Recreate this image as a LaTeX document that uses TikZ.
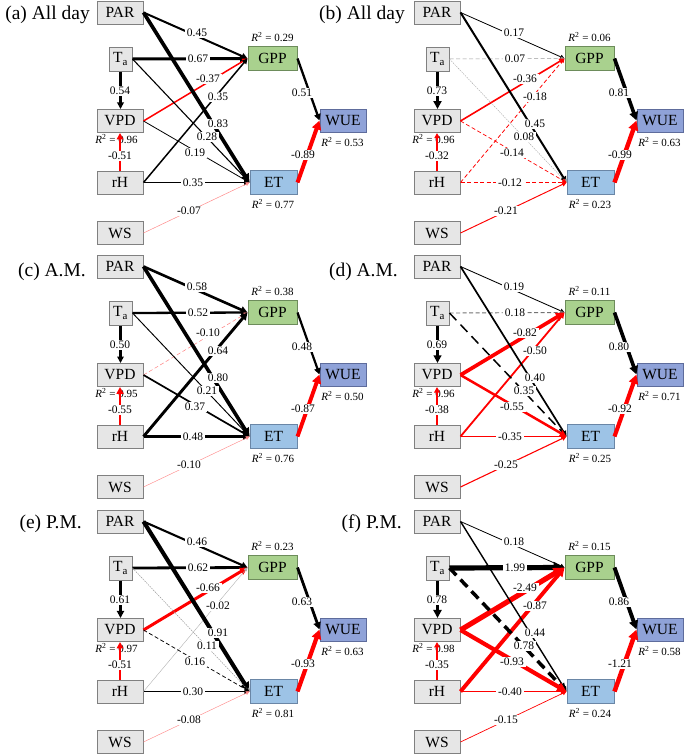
\documentclass[tikz,border=0pt]{standalone}
\usepackage{fontspec}
\setmainfont{Liberation Serif}
\usetikzlibrary{arrows.meta}
\definecolor{boxfill}{HTML}{E6E6E6}
\definecolor{boxline}{HTML}{808080}
\definecolor{gppfill}{HTML}{A9D18E}
\definecolor{gppline}{HTML}{6D8C5B}
\definecolor{etfill}{HTML}{9DC3E6}
\definecolor{etline}{HTML}{6A86A6}
\definecolor{wuefill}{HTML}{8FA2D8}
\definecolor{wueline}{HTML}{5E6C9C}
\tikzset{
  bx/.style={draw=boxline, line width=1pt, fill=boxfill, minimum width=46pt, minimum height=23pt, inner sep=0pt, font=\fontsize{15.5}{18}\selectfont},
  tabx/.style={bx, minimum width=23pt, minimum height=24pt},
  gppbx/.style={bx, fill=gppfill, draw=gppline, minimum width=49pt, minimum height=24pt},
  etbx/.style={bx, fill=etfill, draw=etline, minimum width=47pt, minimum height=24pt},
  wuebx/.style={bx, fill=wuefill, draw=wueline, minimum width=46pt, minimum height=23pt},
  lbl/.style={fill=white, inner xsep=2pt, inner ysep=1.2pt, font=\fontsize{11.5}{13}\selectfont},
  rsq/.style={inner sep=0pt, font=\fontsize{11}{13}\selectfont},
  ttl/.style={anchor=base east, inner sep=0pt, font=\fontsize{19.5}{22}\selectfont},
  P/.style={line width=#1pt, draw=black, -{Triangle[length=3pt 1.5, width=3pt 1.5]}},
  N/.style={P=#1, draw=red},
  dsh/.style={dash pattern=on 4pt off 2.5pt},
  ldsh/.style={dash pattern=on 10pt off 6pt},
  dotl/.style={dash pattern=on 1.5pt off 1pt},
}
\newcommand\mkpanel[8]{%
  \node[bx] (#1PAR) at (120,12.5) {PAR};
  \node[tabx] (#1Ta) at (120.5,59) {T\textsubscript{a}};
  \node[bx] (#1VPD) at (120,121) {VPD};
  \node[bx] (#1rH) at (120,182.5) {rH};
  \node[bx] (#1WS) at (120,233) {WS};
  \node[gppbx] (#1GPP) at (272.5,58.5) {GPP};
  \node[etbx] (#1ET) at (273.5,182.5) {ET};
  \node[wuebx] (#1WUE) at (343,120.5) {WUE};
  \node[ttl] (#1T) at (#3,#4) {#2};
  \node[rsq] (#1rG) at (272.5,37.5) {\textit{R}\textsuperscript{2} = #5};
  \node[rsq] (#1rE) at (273,204) {\textit{R}\textsuperscript{2} = #6};
  \node[rsq] (#1rW) at (342.5,142.5) {\textit{R}\textsuperscript{2} = #7};
  \node[rsq] (#1rV) at (116.5,139.5) {\textit{R}\textsuperscript{2} = #8};
}
\newcommand\edgesA[9]{%
  \draw[#2] (#1PAR.east) -- (#1GPP.west);
  \draw[#3] (#1Ta.east) -- (#1GPP.west);
  \draw[#4] (#1VPD.east) -- (#1GPP.west);
  \draw[#5] (#1rH.east) -- (#1GPP.west);
  \draw[#6] (#1PAR.east) -- (#1ET.west);
  \draw[#7] (#1Ta.east) -- (#1ET.west);
  \draw[#8] (#1VPD.east) -- (#1ET.west);
  \draw[#9] (#1rH.east) -- (#1ET.west);
}
\newcommand\edgesB[6]{%
  \draw[#2] (#1WS.east) -- (#1ET.west);
  \draw[#3] (#1Ta.south) -- (#1Ta.south |- #1VPD.north);
  \draw[#4] (#1rH.north) -- (#1rH.north |- #1VPD.south);
  \draw[#5] (#1GPP.east) -- (#1WUE.west);
  \draw[#6] (#1ET.east) -- (#1WUE.west);
}
\newcommand\labelsA[9]{%
  \node[lbl] (#1l1) at (197,33) {#2};
  \node[lbl] (#1l2) at (198,59) {#3};
  \node[lbl] (#1l3) at (208,79) {#4};
  \node[lbl] (#1l4) at (218,97) {#5};
  \node[lbl] (#1l5) at (218,124) {#6};
  \node[lbl] (#1l6) at (207,137) {#7};
  \node[lbl] (#1l7) at (195,153) {#8};
  \node[lbl] (#1l8) at (193,183) {#9};
}
\newcommand\labelsB[6]{%
  \node[lbl] (#1l9) at (189,211) {#2};
  \node[lbl] (#1l10) at (120,91) {#3};
  \node[lbl] (#1l11) at (120,156) {#4};
  \node[lbl] (#1l12) at (302,93) {#5};
  \node[lbl] (#1l13) at (303,155) {#6};
}
\begin{document}
\begin{tikzpicture}[x=1pt,y=-1pt]
\path[fill=white,use as bounding box] (0,0) rectangle (685,755);
% (a)
\begin{scope}
\mkpanel{a}{(a) All day}{90}{19.5}{0.29}{0.77}{0.53}{0.96}
\edgesA{a}{P=2.0}{P=3.0}{N=1.5}{P=1.5}{P=3.7}{P=1.1}{P=0.8}{P=1.6}
\edgesB{a}{N=0.5,draw=red!45}{P=2.4}{N=2.3}{P=2.3}{N=4.0}
\labelsA{a}{0.45}{0.67}{-0.37}{0.35}{0.83}{0.28}{0.19}{0.35}
\labelsB{a}{-0.07}{0.54}{-0.51}{0.51}{-0.89}
\end{scope}
% (b)
\begin{scope}[shift={(317,0)}]
\mkpanel{b}{(b) All day}{88}{19.5}{0.06}{0.23}{0.63}{0.96}
\edgesA{b}{P=0.8}{P=0.5,draw=black!40,dsh}{N=1.6}{N=0.8,dsh}{P=2.0}{P=0.4,draw=black!35,dotl}{N=0.7,dsh}{N=0.6,dsh}
\edgesB{b}{N=0.95}{P=3.3}{N=1.4}{P=3.6}{N=4.4}
\labelsA{b}{0.17}{0.07}{-0.36}{-0.18}{0.45}{0.08}{-0.14}{-0.12}
\labelsB{b}{-0.21}{0.73}{-0.32}{0.81}{-0.99}
\end{scope}
% (c)
\begin{scope}[shift={(0,254)}]
\mkpanel{c}{(c) A.M.}{86}{22}{0.38}{0.76}{0.50}{0.95}
\edgesA{c}{P=2.6}{P=2.3}{N=0.5,draw=red!50,dsh}{P=2.9}{P=3.6}{P=0.95}{P=1.7}{P=2.2}
\edgesB{c}{N=0.45,draw=red!45}{P=2.25}{N=2.5}{P=2.2}{N=3.9}
\labelsA{c}{0.58}{0.52}{-0.10}{0.64}{0.80}{0.21}{0.37}{0.48}
\labelsB{c}{-0.10}{0.50}{-0.55}{0.48}{-0.87}
\end{scope}
% (d)
\begin{scope}[shift={(317,254)}]
\mkpanel{d}{(d) A.M.}{81}{22}{0.11}{0.25}{0.71}{0.96}
\edgesA{d}{P=0.85}{P=0.9,draw=black!55,dsh}{N=3.7}{N=1.8}{P=1.7}{P=1.5,ldsh}{N=2.5}{N=1.6}
\edgesB{d}{N=1.1}{P=3.1}{N=1.7}{P=3.6}{N=4.1}
\labelsA{d}{0.19}{0.18}{-0.82}{-0.50}{0.40}{0.35}{-0.55}{-0.35}
\labelsB{d}{-0.25}{0.69}{-0.38}{0.80}{-0.92}
\end{scope}
% (e)
\begin{scope}[shift={(0,509)}]
\mkpanel{e}{(e) P.M.}{82}{19.5}{0.23}{0.81}{0.63}{0.97}
\edgesA{e}{P=2.1}{P=2.8}{N=3.0}{P=0.4,draw=black!30}{P=4.1}{P=0.5,draw=black!40,dotl}{P=0.75,dsh}{P=1.35}
\edgesB{e}{N=0.45,draw=red!45}{P=2.7}{N=2.3}{P=2.8}{N=4.2}
\labelsA{e}{0.46}{0.62}{-0.66}{-0.02}{0.91}{0.11}{0.16}{0.30}
\labelsB{e}{-0.08}{0.61}{-0.51}{0.63}{-0.93}
\end{scope}
% (f)
\begin{scope}[shift={(317,509)}]
\mkpanel{f}{(f) P.M.}{85}{19.5}{0.15}{0.24}{0.58}{0.98}
\edgesA{f}{P=0.8}{P=5.2}{N=5.2}{N=3.9}{P=1.4}{P=3.5,ldsh}{N=4.2}{N=1.8}
\edgesB{f}{N=0.7}{P=3.5}{N=1.6}{P=3.9}{N=4.5}
\labelsA{f}{0.18}{1.99}{-2.49}{-0.87}{0.44}{0.78}{-0.93}{-0.40}
\labelsB{f}{-0.15}{0.78}{-0.35}{0.86}{-1.21}
\end{scope}
\end{tikzpicture}
\end{document}
